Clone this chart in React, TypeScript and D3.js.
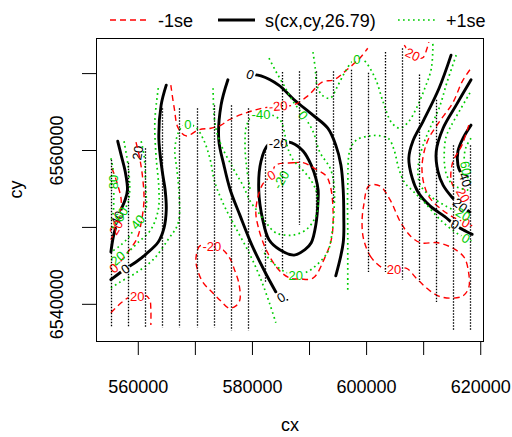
import React from "react";
import * as d3 from "d3";

type Pt = [number, number];
type Label = { text: string; cx: number; cy: number; angle: number };

const WIDTH = 512;
const HEIGHT = 437;
const MARGIN = { top: 38, right: 28, bottom: 96, left: 96 };

const X_DOMAIN: Pt = [552590, 620570];
const Y_DOMAIN: Pt = [6535230, 6574630];

const xTicks = [560000, 570000, 580000, 590000, 600000, 610000, 620000];
const xTickLabels = [560000, 580000, 600000, 620000];
const yTicks = [6540000, 6550000, 6560000, 6570000];
const yTickLabels = [6540000, 6560000];

const legendLabels = ["-1se", "s(cx,cy,26.79)", "+1se"];

// transects of sample locations: [cx, top cy, bottom cy]
const sampleColumns: [number, number, number][] = [
  [555200, 6558800, 6537000],
  [558200, 6558400, 6537000],
  [561200, 6560300, 6537000],
  [564200, 6565500, 6537000],
  [567200, 6565500, 6537000],
  [570200, 6565500, 6537000],
  [573200, 6565900, 6537000],
  [576200, 6565900, 6536600],
  [579200, 6565500, 6536600],
  [582200, 6560300, 6542800],
  [585200, 6570200, 6544500],
  [588200, 6570300, 6550300],
  [591200, 6570300, 6551600],
  [594200, 6570300, 6553200],
  [597200, 6570500, 6552300],
  [600200, 6570100, 6544200],
  [603200, 6572800, 6544200],
  [606200, 6573300, 6543200],
  [609200, 6569900, 6542900],
  [612200, 6566600, 6540300],
  [615200, 6560700, 6536600],
  [618200, 6560700, 6536600],
];
const sampleSingles: Pt[] = [[586100, 6540600]];

// fitted smooth contours (black)
const fitLeftInner: Pt[] = [[556400, 6561200], [557000, 6559400], [557700, 6557300], [558100, 6554900], [557700, 6553600], [556800, 6552000], [556100, 6550200], [555600, 6548700], [555200, 6546800]];
const fitLeftOuter: Pt[] = [[564900, 6568500], [564000, 6565900], [563600, 6561600], [564200, 6557300], [564700, 6554900], [564900, 6552300], [564500, 6549900], [563500, 6548100], [561300, 6546500], [559600, 6545500], [557700, 6544600], [555200, 6543200]];
const fitNorth: Pt[] = [[579600, 6569900], [581500, 6569700], [584600, 6568500], [587300, 6566600], [590600, 6564600], [593200, 6562900], [594600, 6560700], [595500, 6558100], [595900, 6554900], [596000, 6551600], [595900, 6548000], [594600, 6543700]];
const fitCentreLoop: Pt[] = [[582700, 6560700], [581500, 6558600], [581100, 6554900], [581800, 6551000], [582900, 6548400], [584800, 6547100], [587300, 6546400], [589200, 6547100], [590300, 6548000], [591100, 6550300], [591500, 6553600], [591500, 6554900], [591100, 6556400], [590300, 6558100], [588900, 6559900], [586900, 6561000], [584500, 6561100]];
const fitDiagonal: Pt[] = [[575700, 6569200], [574500, 6565900], [574100, 6561400], [575000, 6558100], [576100, 6554900], [577800, 6551600], [579900, 6547700], [582200, 6544200], [584100, 6541600]];
const fitRightOuter: Pt[] = [[614800, 6572400], [612700, 6568100], [609900, 6563800], [608100, 6561200], [607400, 6559000], [608000, 6556400], [609000, 6554600], [611100, 6552800], [613700, 6551400], [615500, 6550300], [616900, 6549700], [618500, 6549100]];
const fitRightMid: Pt[] = [[618300, 6569200], [615700, 6565900], [613400, 6562900], [612200, 6559900], [612500, 6557300], [613400, 6555500], [615000, 6553900], [616400, 6552900], [618100, 6552000]];
const fitRightInner: Pt[] = [[618300, 6563300], [616900, 6561600], [616000, 6559900], [616000, 6558100], [616500, 6557100], [617400, 6556200], [618100, 6555400]];

// -1 se contours (red)
const lowerNorth: Pt[] = [[565700, 6568500], [566300, 6565500], [567000, 6562900], [568400, 6561900], [570600, 6562700], [572700, 6562900], [574500, 6563300], [575900, 6564000], [578900, 6564900], [581700, 6565500], [584500, 6565800], [587100, 6565900], [589700, 6567100], [592200, 6568900], [594300, 6569200], [596700, 6570600], [598800, 6572000], [600200, 6573300]];
const lowerNorthEast: Pt[] = [[606600, 6573700], [607400, 6572900], [608100, 6572500], [609200, 6572000], [609900, 6572100], [610600, 6573300], [610900, 6574100]];
const lowerEastOuter: Pt[] = [[618100, 6570500], [616700, 6568900], [615100, 6566200], [612700, 6563700], [610900, 6561600], [610100, 6559900], [609700, 6557700], [610100, 6555500], [611100, 6553800], [613200, 6552300], [615500, 6551200], [617400, 6550600], [618500, 6550200]];
const lowerEastInner: Pt[] = [[617900, 6563300], [616700, 6560700], [615100, 6558500], [614800, 6556200], [615500, 6555000], [616900, 6554200], [618100, 6553700]];
const lowerCentreLoop: Pt[] = [[584100, 6558100], [587100, 6558400], [589000, 6558400], [590800, 6557700], [592900, 6556700], [593600, 6555500], [594100, 6552700], [593900, 6548700], [592700, 6546100], [590600, 6543400], [588300, 6543300], [586600, 6543400], [584600, 6544500], [582400, 6547100], [581000, 6550100], [580600, 6552300], [581700, 6555500], [583300, 6556800]];
const lowerWestLoop: Pt[] = [[573800, 6547400], [574800, 6547100], [576100, 6545900], [576900, 6544400], [577600, 6542800], [577800, 6540600], [577100, 6539800], [575900, 6539500], [574500, 6540400], [572900, 6541600], [571300, 6542900], [570300, 6544700], [570100, 6546000], [570800, 6547600], [572900, 6547500]];
const lowerSouthWest: Pt[] = [[555200, 6538900], [557000, 6540200], [558400, 6540900], [559800, 6541000], [561200, 6541200], [562000, 6540600], [562200, 6539300], [562200, 6537300]];
const lowerEastLoop: Pt[] = [[602900, 6544700], [600800, 6546100], [599500, 6548400], [599200, 6550600], [599500, 6552900], [600400, 6555400], [602300, 6555400], [604100, 6553600], [606000, 6550600], [607800, 6548800], [609500, 6548000], [612500, 6548000], [615100, 6547300], [617100, 6546100], [617900, 6544000], [617900, 6542200], [616900, 6541100], [614800, 6540800], [612500, 6541100], [610400, 6542200], [608700, 6543400], [606900, 6544700], [604800, 6544500]];
const lowerWestA: Pt[] = [[559600, 6561100], [560300, 6558800], [560800, 6556200], [561000, 6553600], [560600, 6551000], [559800, 6548600], [558200, 6546800], [556800, 6545500], [555700, 6544700], [555200, 6544300]];
const lowerWestB: Pt[] = [[555400, 6557700], [556400, 6555500], [557000, 6553600], [556800, 6552000], [556100, 6550000], [555200, 6548400]];

// +1 se contours (green)
const upperWest80: Pt[] = [[555200, 6559000], [555600, 6557500], [555700, 6555900], [555700, 6553800], [555600, 6551900], [555200, 6550800]];
const upperWest60: Pt[] = [[557500, 6561200], [558200, 6558100], [558500, 6555100], [558200, 6553200], [557500, 6552300], [557000, 6551700], [556100, 6550600], [555200, 6549700]];
const upperWest40: Pt[] = [[560500, 6561200], [561000, 6559400], [561300, 6555100], [561300, 6552300], [559900, 6550700], [558400, 6548800], [556600, 6547500], [555200, 6546800]];
const upperWest20: Pt[] = [[563500, 6568100], [562900, 6563800], [563100, 6559400], [563600, 6555100], [563500, 6552300], [562200, 6549700], [559900, 6548000], [558200, 6546800], [556400, 6546000], [555200, 6545400]];
const upperZero: Pt[] = [[555200, 6542100], [556600, 6542800], [559600, 6544100], [562600, 6545800], [565200, 6548400], [567000, 6550600], [567100, 6554900], [566800, 6557300], [566400, 6560100], [567000, 6562300], [567800, 6563200], [568700, 6563400], [570100, 6563000], [571500, 6561300], [572600, 6558800], [573400, 6555900], [575000, 6552900], [577100, 6549900], [579600, 6546400], [581500, 6543200], [583100, 6539900], [584100, 6537600]];
const upperCentre: Pt[] = [[573100, 6568100], [573400, 6563700], [574300, 6561100], [576600, 6557700], [578300, 6555500], [579700, 6553300], [581000, 6552000], [582400, 6550600], [584100, 6549300], [587100, 6549000], [589400, 6549700], [590800, 6551000], [591500, 6552700], [591100, 6554900], [589900, 6556500], [588500, 6557700], [587100, 6558800], [586200, 6560300], [585700, 6562000], [585000, 6563800], [583800, 6564500], [581700, 6564700], [580100, 6564500], [579000, 6563300], [578700, 6560700], [579000, 6557700], [579600, 6554900]];
const upperRidge: Pt[] = [[582900, 6572000], [584100, 6570300], [585500, 6568500], [587100, 6566400], [588900, 6564600], [590600, 6562500], [591800, 6559800], [593600, 6557700], [594300, 6555500], [594300, 6552300], [593900, 6549000], [593100, 6546700], [590600, 6544700], [589200, 6544100], [587600, 6543800], [585500, 6544300], [583400, 6545500], [581700, 6547100]];
const upperNorth: Pt[] = [[590600, 6572800], [591000, 6570700], [591300, 6568500], [592200, 6567200], [593600, 6566800], [595000, 6568500], [596200, 6570200], [597400, 6571500], [598300, 6571800], [599400, 6571800], [601500, 6569400], [602900, 6566300], [604400, 6563600], [605800, 6562900], [607300, 6563700], [608800, 6565600], [610200, 6568100], [611300, 6570500], [611600, 6573100], [611600, 6574100]];
const upperEast0: Pt[] = [[596700, 6541900], [596700, 6548700], [596700, 6555500], [597100, 6560100], [598300, 6561400], [600600, 6561900], [602500, 6561900], [603900, 6561500], [604800, 6560100], [605700, 6557500], [606700, 6555800], [608300, 6554600], [610200, 6553200], [612900, 6551000], [615500, 6549400], [617400, 6548600], [618500, 6548200]];
const upperEast20: Pt[] = [[615700, 6572400], [614100, 6568900], [612700, 6565500], [611100, 6562900], [609900, 6560700], [609200, 6558800], [609000, 6556800], [609500, 6555400], [611100, 6554100], [614100, 6552700], [616900, 6551700], [618300, 6551200]];
const upperEast40: Pt[] = [[618100, 6567500], [616400, 6565300], [614800, 6563200], [613900, 6561700], [613600, 6559100], [613900, 6557100], [614800, 6555800], [616000, 6555200], [618100, 6554800]];
const upperEast60: Pt[] = [[618300, 6561600], [617400, 6560400], [617100, 6559000], [617400, 6557500], [617900, 6556200], [618300, 6555800]];

const fitLabels: Label[] = [
  { text: "40", cx: 556300, cy: 6551200, angle: -65 },
  { text: "20", cx: 559900, cy: 6559700, angle: -80 },
  { text: "0", cx: 557700, cy: 6544600, angle: -35 },
  { text: "0", cx: 579600, cy: 6569900, angle: 20 },
  { text: "-20", cx: 584500, cy: 6561000, angle: 0 },
  { text: "0", cx: 585000, cy: 6540900, angle: -30 },
  { text: "0", cx: 615500, cy: 6550400, angle: 30 },
  { text: "20", cx: 616400, cy: 6552900, angle: 40 },
  { text: "40", cx: 617300, cy: 6556200, angle: 70 },
];
const lowerLabels: Label[] = [
  { text: "-20", cx: 584500, cy: 6565800, angle: -5 },
  { text: "20", cx: 608100, cy: 6572500, angle: 25 },
  { text: "0", cx: 617400, cy: 6550600, angle: 30 },
  { text: "20", cx: 616900, cy: 6554200, angle: 60 },
  { text: "0", cx: 583300, cy: 6556800, angle: -30 },
  { text: "-20", cx: 572900, cy: 6547500, angle: 0 },
  { text: "20", cx: 559800, cy: 6541000, angle: 0 },
  { text: "20", cx: 604800, cy: 6544500, angle: 0 },
  { text: "0", cx: 555700, cy: 6544700, angle: -40 },
  { text: "20", cx: 556100, cy: 6550000, angle: -60 },
];
const upperLabels: Label[] = [
  { text: "80", cx: 555700, cy: 6555900, angle: -90 },
  { text: "60", cx: 557000, cy: 6551700, angle: -60 },
  { text: "40", cx: 559900, cy: 6550700, angle: -50 },
  { text: "20", cx: 556400, cy: 6546000, angle: -40 },
  { text: "0", cx: 568700, cy: 6563400, angle: 0 },
  { text: "-40", cx: 581500, cy: 6564700, angle: 0 },
  { text: "-20", cx: 585000, cy: 6556200, angle: -60 },
  { text: "0", cx: 588900, cy: 6564600, angle: 50 },
  { text: "20", cx: 587600, cy: 6543800, angle: 0 },
  { text: "0", cx: 598300, cy: 6571800, angle: 0 },
  { text: "0", cx: 617400, cy: 6548600, angle: 30 },
  { text: "20", cx: 616900, cy: 6551700, angle: 30 },
  { text: "60", cx: 617400, cy: 6557700, angle: 80 },
];

const fitLines = [fitLeftInner, fitLeftOuter, fitNorth, fitDiagonal, fitRightOuter, fitRightMid, fitRightInner];
const fitLoops = [fitCentreLoop];
const lowerLines = [lowerNorth, lowerNorthEast, lowerEastOuter, lowerEastInner, lowerSouthWest, lowerWestA, lowerWestB];
const lowerLoops = [lowerCentreLoop, lowerWestLoop, lowerEastLoop];
const upperLines = [upperWest80, upperWest60, upperWest40, upperWest20, upperZero, upperCentre, upperRidge, upperNorth, upperEast0, upperEast20, upperEast40, upperEast60];

const FONT = "'Liberation Sans', Arial, Helvetica, sans-serif";
const RED = "#ff0000";
const GREEN = "#00cd00";

const x = d3.scaleLinear().domain(X_DOMAIN).range([MARGIN.left, WIDTH - MARGIN.right]);
const y = d3.scaleLinear().domain(Y_DOMAIN).range([HEIGHT - MARGIN.bottom, MARGIN.top]);

const openPath = d3.line<Pt>().x(d => x(d[0])).y(d => y(d[1])).curve(d3.curveCatmullRom.alpha(0.5));
const closedPath = d3.line<Pt>().x(d => x(d[0])).y(d => y(d[1])).curve(d3.curveCatmullRomClosed.alpha(0.5));

const labelWidth = (t: string) => t.split("").reduce((s, c) => s + (c === "-" ? 4.4 : 7.2), 0);

function LabelMask({ id, labels }: { id: string; labels: Label[] }) {
  return (
    <mask id={id} maskUnits="userSpaceOnUse" x={0} y={0} width={WIDTH} height={HEIGHT}>
      <rect x={0} y={0} width={WIDTH} height={HEIGHT} fill="white" />
      {labels.map((l, i) => {
        const w = labelWidth(l.text) + 3;
        return (
          <rect key={i} x={-w / 2} y={-6} width={w} height={12} fill="black"
            transform={`translate(${x(l.cx)},${y(l.cy)}) rotate(${l.angle})`} />
        );
      })}
    </mask>
  );
}

function Labels({ labels, color }: { labels: Label[]; color: string }) {
  return (
    <g fill={color} fontSize={13} fontFamily={FONT} textAnchor="middle">
      {labels.map((l, i) => (
        <text key={i} dy="0.36em" transform={`translate(${x(l.cx)},${y(l.cy)}) rotate(${l.angle})`}>{l.text}</text>
      ))}
    </g>
  );
}

export default function App() {
  const bottom = HEIGHT - MARGIN.bottom;
  const right = WIDTH - MARGIN.right;
  return (
    <svg width={WIDTH} height={HEIGHT} style={{ position: "absolute", left: 0, top: 0, background: "white" }}>
      <defs>
        <LabelMask id="mask-fit" labels={fitLabels} />
        <LabelMask id="mask-lower" labels={lowerLabels} />
        <LabelMask id="mask-upper" labels={upperLabels} />
      </defs>

      {/* fitted surface */}
      <g mask="url(#mask-fit)" fill="none" stroke="black" strokeWidth={2.9} strokeLinecap="round" strokeLinejoin="round">
        {fitLines.map((d, i) => <path key={i} d={openPath(d) || ""} />)}
        {fitLoops.map((d, i) => <path key={"l" + i} d={closedPath(d) || ""} />)}
      </g>
      <Labels labels={fitLabels} color="black" />

      {/* -1 se */}
      <g mask="url(#mask-lower)" fill="none" stroke={RED} strokeWidth={1.4} strokeDasharray="6,4">
        {lowerLines.map((d, i) => <path key={i} d={openPath(d) || ""} />)}
        {lowerLoops.map((d, i) => <path key={"l" + i} d={closedPath(d) || ""} />)}
      </g>
      <Labels labels={lowerLabels} color={RED} />

      {/* +1 se */}
      <g mask="url(#mask-upper)" fill="none" stroke={GREEN} strokeWidth={1.7} strokeDasharray="1.7,3.3" strokeLinecap="butt">
        {upperLines.map((d, i) => <path key={i} d={openPath(d) || ""} />)}
      </g>
      <Labels labels={upperLabels} color={GREEN} />

      {/* sample locations */}
      <g stroke="black" strokeWidth={1.3} strokeDasharray="1.5,1.5">
        {sampleColumns.map(([cx, top, bot], i) => {
          const px = Math.round(x(cx)) + 0.5;
          return <line key={i} x1={px} x2={px} y1={y(top)} y2={y(bot)} />;
        })}
      </g>
      {sampleSingles.map(([cx, cy], i) => (
        <rect key={i} x={x(cx) - 0.7} y={y(cy) - 0.7} width={1.6} height={1.6} fill="black" />
      ))}

      {/* frame */}
      <rect x={MARGIN.left + 0.5} y={MARGIN.top + 0.5} width={right - MARGIN.left - 1} height={bottom - MARGIN.top}
        fill="none" stroke="black" strokeWidth={1} />

      {/* x axis */}
      <g stroke="black" strokeWidth={1}>
        {xTicks.map(v => <line key={v} x1={x(v)} x2={x(v)} y1={bottom} y2={bottom + 14} />)}
      </g>
      <g fontFamily={FONT} fontSize={18} textAnchor="middle">
        {xTickLabels.map(v => <text key={v} x={x(v)} y={393}>{String(v)}</text>)}
        <text x={(MARGIN.left + right) / 2} y={431}>cx</text>
      </g>

      {/* y axis */}
      <g stroke="black" strokeWidth={1}>
        {yTicks.map(v => <line key={v} x1={MARGIN.left - 14} x2={MARGIN.left} y1={y(v)} y2={y(v)} />)}
      </g>
      <g fontFamily={FONT} fontSize={18} textAnchor="middle">
        {yTickLabels.map(v => (
          <text key={v} transform={`translate(63,${y(v)}) rotate(-90)`}>{String(v)}</text>
        ))}
        <text transform={`translate(22,${(MARGIN.top + bottom) / 2}) rotate(-90)`}>cy</text>
      </g>

      {/* legend */}
      <g fontFamily={FONT} fontSize={18}>
        <line x1={110} x2={147} y1={20} y2={20} stroke={RED} strokeWidth={1.4} strokeDasharray="6,4" />
        <text x={158} y={26.5}>{legendLabels[0]}</text>
        <line x1={218} x2={255} y1={20} y2={20} stroke="black" strokeWidth={2.9} />
        <text x={265} y={26.5}>{legendLabels[1]}</text>
        <line x1={398} x2={435} y1={20} y2={20} stroke={GREEN} strokeWidth={1.7} strokeDasharray="1.7,3.3" />
        <text x={446} y={26.5}>{legendLabels[2]}</text>
      </g>
    </svg>
  );
}
